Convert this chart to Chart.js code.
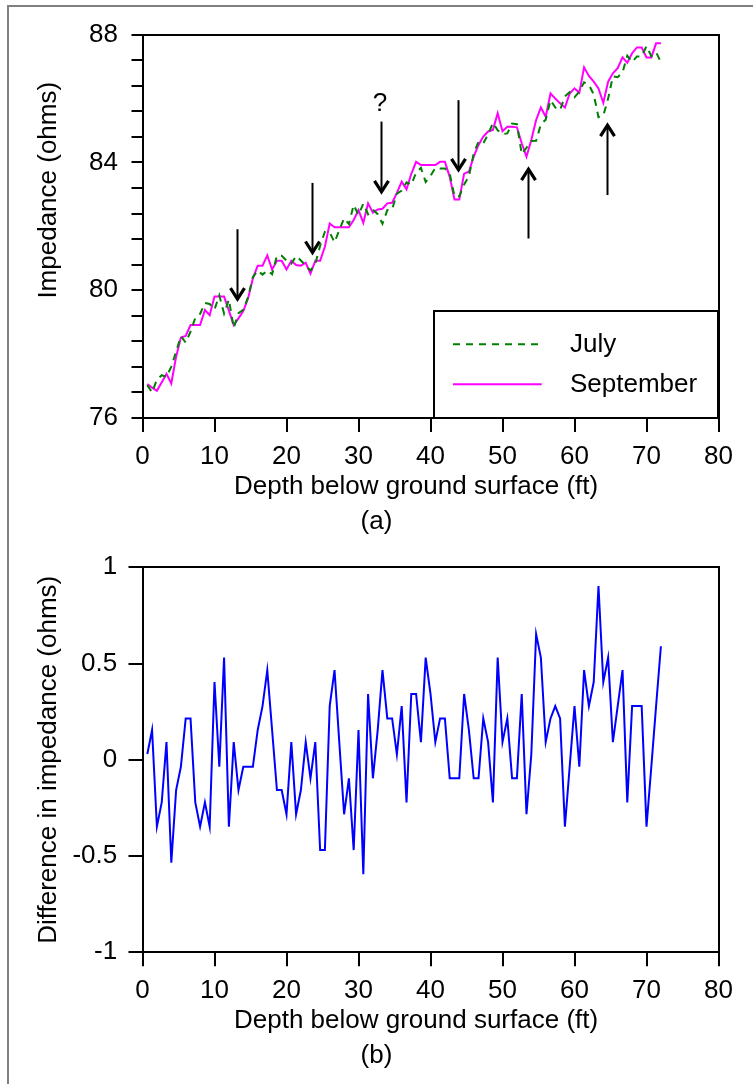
<!DOCTYPE html>
<html>
<head>
<meta charset="utf-8">
<script src="https://cdn.jsdelivr.net/npm/chart.js@4.4.0/dist/chart.umd.min.js"></script>
<style>
  html, body { margin: 0; padding: 0; background: #fff; overflow: hidden; }
  #page { position: relative; width: 753px; height: 1084px; overflow: hidden; }
  #frame { position: absolute; left: 7px; top: 5px; width: 2000px; height: 2000px;
           border-left: 2px solid #808080; border-top: 2px solid #808080; }
  canvas { position: absolute; left: 0; }
  #cA { top: 0; }
  #cB { top: 540px; }
</style>
</head>
<body>
<div id="page">
  <div id="frame"></div>
  <canvas id="cA" width="753" height="540"></canvas>
  <canvas id="cB" width="753" height="544"></canvas>
</div>
<script>
// ---------------- DATA ----------------
const depthFt = [0.67,1.33,2,2.67,3.33,4,4.67,5.33,6,6.67,7.33,8,8.67,9.33,10,10.67,11.33,12,12.67,13.33,14,14.67,15.33,16,16.67,17.33,18,18.67,19.33,20,20.67,21.33,22,22.67,23.33,24,24.67,25.33,26,26.67,27.33,28,28.67,29.33,30,30.67,31.33,32,32.67,33.33,34,34.67,35.33,36,36.67,37.33,38,38.67,39.33,40,40.67,41.33,42,42.67,43.33,44,44.67,45.33,46,46.67,47.33,48,48.67,49.33,50,50.67,51.33,52,52.67,53.33,54,54.67,55.33,56,56.67,57.33,58,58.67,59.33,60,60.67,61.33,62,62.67,63.33,64,64.67,65.33,66,66.67,67.33,68,68.67,69.33,70,70.67,71.33,72];

const septemberImpedance = [77.06,76.95,76.85,77.12,77.38,77.08,77.92,78.52,78.57,78.91,78.91,78.91,79.38,79.22,79.80,79.80,79.80,79.36,78.91,79.12,79.35,79.75,80.37,80.77,80.77,81.09,80.65,80.92,80.92,80.65,80.92,80.79,80.77,80.86,80.52,80.92,80.92,81.36,82.09,81.97,81.97,81.97,81.97,82.20,82.51,82.11,82.72,82.43,82.53,82.55,82.72,82.74,83.05,83.40,83.16,83.64,84.02,83.92,83.92,83.92,83.92,84.02,84.02,83.55,82.84,82.84,83.65,83.71,84.18,84.55,84.81,84.97,85.02,85.54,84.98,85.12,85.12,85.10,84.60,84.18,84.70,85.33,85.72,85.43,86.16,86.00,85.85,85.72,86.16,86.32,86.18,86.98,86.71,86.53,86.32,85.87,86.53,86.79,86.95,87.29,87.12,87.42,87.60,87.60,87.29,87.29,87.73,87.73];

const julyImpedance = [77.03,76.80,77.20,77.34,77.29,77.61,78.08,78.56,78.36,78.70,79.13,79.26,79.60,79.57,79.40,79.84,79.27,79.71,78.82,79.28,79.39,79.79,80.41,80.62,80.49,80.62,80.50,81.08,81.08,80.93,80.83,81.07,80.93,80.77,80.62,80.83,81.39,81.83,81.81,81.50,81.88,82.25,82.07,82.67,82.36,82.71,82.38,82.53,82.38,82.08,82.51,82.53,83.02,83.12,83.38,83.30,83.68,83.83,83.39,83.58,83.83,83.81,83.81,83.65,82.94,82.94,83.31,83.56,84.28,84.65,84.60,84.88,85.24,85.01,84.89,84.91,85.22,85.20,84.26,84.46,84.67,84.68,85.19,85.34,85.95,85.72,85.64,86.07,86.20,86.04,86.22,86.51,86.43,86.13,85.42,85.47,86.00,86.70,86.67,86.82,87.34,87.14,87.32,87.32,87.64,87.33,87.45,87.14];

const impedanceDifference = [0.03,0.155,-0.347,-0.221,0.092,-0.534,-0.157,-0.036,0.215,0.215,-0.221,-0.347,-0.221,-0.347,0.404,-0.036,0.531,-0.347,0.092,-0.157,-0.036,-0.036,-0.036,0.155,0.279,0.466,0.155,-0.157,-0.157,-0.283,0.092,-0.283,-0.157,0.092,-0.096,0.092,-0.469,-0.469,0.279,0.466,0.092,-0.283,-0.096,-0.469,0.155,-0.595,0.342,-0.096,0.155,0.466,0.215,0.215,0.028,0.279,-0.221,0.342,0.342,0.092,0.531,0.342,0.092,0.215,0.215,-0.096,-0.096,-0.096,0.342,0.155,-0.096,-0.096,0.215,0.092,-0.221,0.531,0.092,0.215,-0.096,-0.096,0.342,-0.283,0.028,0.653,0.531,0.092,0.215,0.279,0.215,-0.347,-0.036,0.279,-0.036,0.466,0.279,0.404,0.903,0.404,0.531,0.092,0.279,0.466,-0.221,0.279,0.279,0.279,-0.347,-0.036,0.279,0.59];

const depthTicks = [0,10,20,30,40,50,60,70,80];
const impedanceTickLabels = [76,80,84,88];
const differenceTicks = [-1,-0.5,0,0.5,1];

// arrows in panel (a): depth, tail value, tip value (ohms)
const arrowDepth = [13.1, 23.5, 33.1, 43.8, 53.6, 64.5];
const arrowTail  = [81.91, 83.36, 85.28, 85.95, 81.62, 82.98];
const arrowTip   = [79.69, 81.15, 83.05, 83.74, 83.82, 85.20];
const questionMark = { depth: 33.0, value: 85.83, text: '?' };

const seriesNames = ['July', 'September'];
const panelLabels = ['(a)', '(b)'];
const xTitle = 'Depth below ground surface (ft)';
const yTitleA = 'Impedance (ohms)';
const yTitleB = 'Difference in impedance (ohms)';

// ---------------- STYLE ----------------
const FONT = 'Liberation Sans, Arial, Helvetica, sans-serif';
const FS = 26;
Chart.defaults.font.family = FONT;
Chart.defaults.font.size = FS;
Chart.defaults.color = '#000';

function pts(xs, ys) { return xs.map((x, i) => ({ x: x, y: ys[i] })); }

const fixW = w => s => { s.width = w; };
const fixH = h => s => { s.height = h; };

function xAxis(tl, pad) {
  return {
    type: 'linear', position: 'bottom', min: depthTicks[0], max: depthTicks[depthTicks.length - 1],
    afterBuildTicks: s => { s.ticks = depthTicks.map(v => ({ value: v })); },
    ticks: { padding: pad, font: { size: FS }, maxRotation: 0, autoSkip: false, callback: v => String(v) },
    grid: { display: true, drawOnChartArea: false, drawTicks: true, tickLength: tl, color: '#000', lineWidth: 2 },
    border: { display: true, color: '#000', width: 2 },
    title: { display: true, text: xTitle + '    ', font: { size: FS }, padding: { top: 0, bottom: 0 } },
    afterFit: fixH(84.2)
  };
}
function frameX(h) {
  return { type: 'linear', position: 'top', min: 0, max: 1, display: true,
    ticks: { display: false }, grid: { display: false, drawTicks: false },
    border: { display: true, color: '#000', width: 2 }, afterFit: fixH(h) };
}
function frameY(w) {
  return { type: 'linear', position: 'right', min: 0, max: 1, display: true,
    ticks: { display: false }, grid: { display: false, drawTicks: false },
    border: { display: true, color: '#000', width: 2 }, afterFit: fixW(w) };
}

// annotations for panel (a): arrows, question mark, legend box
const panelAAnnotations = {
  id: 'panelAAnnotations',
  afterDatasetsDraw(chart) {
    const { ctx, scales } = chart;
    const x = scales.x, y = scales.y;
    ctx.save();
    ctx.strokeStyle = '#000';
    ctx.lineCap = 'butt';
    for (let i = 0; i < arrowDepth.length; i++) {
      const px = Math.round(x.getPixelForValue(arrowDepth[i])) + 0.5;
      const pt = y.getPixelForValue(arrowTail[i]);
      const pp = y.getPixelForValue(arrowTip[i]);
      const dir = Math.sign(pp - pt);
      ctx.lineWidth = 2;
      ctx.beginPath(); ctx.moveTo(px, pt); ctx.lineTo(px, pp - dir * 2); ctx.stroke();
      ctx.lineWidth = 3.2;
      ctx.lineJoin = 'miter';
      ctx.beginPath();
      ctx.moveTo(px - 7, pp - dir * 12);
      ctx.lineTo(px, pp - dir * 1);
      ctx.lineTo(px + 7, pp - dir * 12);
      ctx.stroke();
    }
    ctx.fillStyle = '#000';
    ctx.font = FS + 'px ' + FONT;
    ctx.textAlign = 'center';
    ctx.textBaseline = 'middle';
    ctx.fillText(questionMark.text, x.getPixelForValue(questionMark.depth), y.getPixelForValue(questionMark.value));
    ctx.restore();
  },
  afterDraw(chart) {
    const { ctx, chartArea } = chart;
    const L = chartArea.right - 284.2, T = chartArea.bottom - 107.3;
    ctx.save();
    ctx.fillStyle = '#fff';
    ctx.fillRect(L, T, chartArea.right - L, chartArea.bottom - T);
    ctx.strokeStyle = '#000';
    ctx.lineWidth = 2;
    ctx.strokeRect(Math.round(L), Math.round(T), Math.round(chartArea.right - L), Math.round(chartArea.bottom - T));
    chart.data.datasets.forEach((ds, i) => {
      const yy = T + 33.6 + i * 40;
      ctx.strokeStyle = ds.borderColor;
      ctx.lineWidth = ds.borderWidth;
      ctx.setLineDash(ds.borderDash || []);
      ctx.beginPath(); ctx.moveTo(L + 18.7, yy); ctx.lineTo(L + 107.4, yy); ctx.stroke();
      ctx.setLineDash([]);
      ctx.fillStyle = '#000';
      ctx.font = FS + 'px ' + FONT;
      ctx.textAlign = 'left';
      ctx.textBaseline = 'middle';
      ctx.fillText(ds.label, L + 135.7, yy + 1);
    });
    ctx.restore();
  }
};

// ---------------- PANEL (a) ----------------
new Chart(document.getElementById('cA'), {
  type: 'line',
  data: {
    datasets: [
      { label: seriesNames[0], data: pts(depthFt, julyImpedance), borderColor: '#008000', borderWidth: 2,
        borderDash: [7, 6], pointRadius: 0, tension: 0, fill: false },
      { label: seriesNames[1], data: pts(depthFt, septemberImpedance), borderColor: '#ff00ff', borderWidth: 2,
        pointRadius: 0, tension: 0, fill: false }
    ]
  },
  options: {
    responsive: false, animation: false, devicePixelRatio: 1,
    layout: { padding: 0 },
    plugins: {
      legend: { display: false },
      tooltip: { enabled: false },
      title: { display: true, text: panelLabels[0], position: 'bottom', color: '#000',
               font: { size: FS, weight: 'normal' }, padding: { top: 4.2, bottom: 2.4 } }
    },
    scales: {
      x: xAxis(14, 9.4),
      x2: frameX(34.7),
      y: {
        type: 'linear', position: 'left', min: 76, max: 88,
        ticks: { stepSize: 0.8, padding: 13.5, font: { size: FS }, autoSkip: false,
          callback: v => { const r = impedanceTickLabels.find(t => Math.abs(t - v) < 1e-6); return r === undefined ? '' : String(r); } },
        grid: { display: true, drawOnChartArea: false, drawTicks: true, tickLength: 11, color: '#000', lineWidth: 2 },
        border: { display: true, color: '#000', width: 2 },
        title: { display: true, text: '          ' + yTitleA, font: { size: FS }, padding: { top: 33.6, bottom: 0 } },
        afterFit: fixW(142.5)
      },
      y2: frameY(34.5)
    }
  },
  plugins: [panelAAnnotations]
});

// ---------------- PANEL (b) ----------------
new Chart(document.getElementById('cB'), {
  type: 'line',
  data: {
    datasets: [
      { label: 'September - July', data: pts(depthFt, impedanceDifference), borderColor: '#0000ff', borderWidth: 2,
        pointRadius: 0, tension: 0, fill: false }
    ]
  },
  options: {
    responsive: false, animation: false, devicePixelRatio: 1,
    layout: { padding: 0 },
    plugins: {
      legend: { display: false },
      tooltip: { enabled: false },
      title: { display: true, text: panelLabels[1], position: 'bottom', color: '#000',
               font: { size: FS, weight: 'normal' }, padding: { top: 4.2, bottom: 12.1 } }
    },
    scales: {
      x: xAxis(14, 9.4),
      x2: frameX(27.3),
      y: {
        type: 'linear', position: 'left', min: differenceTicks[0], max: differenceTicks[differenceTicks.length - 1],
        afterBuildTicks: s => { s.ticks = differenceTicks.map(v => ({ value: v })); },
        ticks: { padding: 11.3, font: { size: FS }, autoSkip: false, callback: v => String(v) },
        grid: { display: true, drawOnChartArea: false, drawTicks: true, tickLength: 14, color: '#000', lineWidth: 2 },
        border: { display: true, color: '#000', width: 2 },
        title: { display: true, text: yTitleB, font: { size: FS }, padding: { top: 33.6, bottom: 0 } },
        afterFit: fixW(142.5)
      },
      y2: frameY(34.5)
    }
  }
});
</script>
</body>
</html>
